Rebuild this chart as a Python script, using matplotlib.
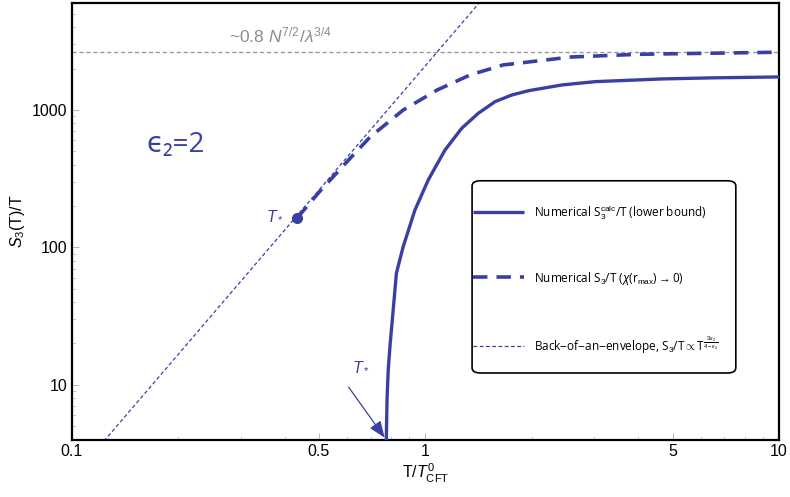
import numpy as np
import matplotlib
matplotlib.use("Agg")
from matplotlib import pyplot as plt
from matplotlib.patches import FancyBboxPatch
from matplotlib.ticker import FixedLocator, NullFormatter

plt.rcParams['font.family'] = ['Liberation Sans', 'DejaVu Sans']
plt.rcParams['mathtext.fontset'] = 'custom'
plt.rcParams['mathtext.rm'] = 'Liberation Sans'
plt.rcParams['mathtext.it'] = 'Liberation Sans:italic'

blue = '#3a40a3'

# lower bound curve, S3calc/T
T_calc = [0.775, 0.779, 0.785, 0.795, 0.806, 0.828, 0.865, 0.934, 1.019, 1.136, 1.267, 1.412,
          1.574, 1.756, 1.957, 2.434, 3.027, 4.64, 6.5, 10.0]
S_calc = [3.9, 8.0, 12.9, 20.0, 29.7, 65.0, 101.0, 187.0, 310.0, 511.0, 736.0, 947.0,
          1149.0, 1285.0, 1380.0, 1520.0, 1607.0, 1680.0, 1712.0, 1738.0]

# chi(r_max) -> 0 curve
T_num = [0.434, 0.5, 0.6, 0.698, 0.866, 1.08, 1.34, 1.66, 2.58, 4.0, 10.0]
S_num = [164.0, 252.0, 420.0, 637.0, 1000.0, 1397.0, 1800.0, 2125.0, 2427.0, 2540.0, 2630.0]

# back-of-an-envelope line, slope 3 on log-log
T_env = [0.12, 1.45]
S_env = [3.6, 6400.0]

S_sat = 2650.0          # ~0.8 N^{7/2}/lambda^{3/4}
T_star, S_star = 0.434, 164.0
T_star2 = 0.775

fig = plt.figure(figsize=(7.9, 4.97), dpi=100)
ax = fig.add_axes([0.091, 0.115, 0.895, 0.879])
ax.set_xscale('log')
ax.set_yscale('log')
ax.set_xlim(0.1, 10)
ax.set_ylim(3.98, 6000)

ax.axhline(S_sat, color='#999999', lw=1.0, ls=(0, (3, 2)), zorder=1)
l3, = ax.plot(T_env, S_env, color=blue, lw=0.9, ls=(0, (3, 2)), zorder=2)
l1, = ax.plot(T_calc, S_calc, color=blue, lw=2.4, solid_capstyle='butt',
              solid_joinstyle='round', zorder=3)
l2, = ax.plot(T_num, S_num, color=blue, lw=2.6, ls=(0, (4, 2.5)), zorder=3)
ax.plot([T_star], [S_star], 'o', color=blue, ms=7, zorder=4)

ax.text(0.39, 3500, r"~0.8 $N^{7/2}/\lambda^{3/4}$", color='#8c8c8c', fontsize=12.5,
        ha='center', va='center')
ax.text(0.197, 556, "ϵ₂=2", color=blue, fontsize=20, ha='center', va='center',
        family=['Open Sans', 'DejaVu Sans'])
ax.text(0.376, 172, r"$T_*$", color=blue, fontsize=11.5, ha='center', va='center')
ax.text(0.655, 13.7, r"$T_*$", color=blue, fontsize=11.5, ha='center', va='center')
ax.annotate('', xy=(T_star2, 3.98), xytext=(0.6, 10.0),
            arrowprops=dict(arrowstyle='-|>,head_length=1.0,head_width=0.4', color=blue, lw=0.9))

# ticks
ax.xaxis.set_major_locator(FixedLocator([0.1, 0.5, 1, 5, 10]))
ax.set_xticklabels(['0.1', '0.5', '1', '5', '10'])
ax.xaxis.set_minor_locator(FixedLocator([0.2, 0.3, 0.4, 0.6, 0.7, 0.8, 0.9, 2, 3, 4, 6, 7, 8, 9]))
ax.xaxis.set_minor_formatter(NullFormatter())
ax.yaxis.set_major_locator(FixedLocator([10, 100, 1000]))
ax.set_yticklabels(['10', '100', '1000'])
ax.yaxis.set_minor_locator(FixedLocator([5, 6, 7, 8, 9, 20, 30, 40, 50, 60, 70, 80, 90,
                                         200, 300, 400, 500, 600, 700, 800, 900, 2000, 3000, 4000, 5000]))
ax.yaxis.set_minor_formatter(NullFormatter())
ax.tick_params(which='major', direction='in', length=5, width=0.8, color='#bbbbbb',
               labelsize=11.5, pad=3, top=False, right=False)
ax.tick_params(which='minor', direction='in', length=3, width=0.7, color='#cccccc',
               top=False, right=False)
for s in ax.spines.values():
    s.set_linewidth(1.6)

ax.set_xlabel(r"T/$T^0_{\rm CFT}$", fontsize=11.5, labelpad=2)
ax.set_ylabel(r"$S_3$(T)/T", fontsize=11.5, labelpad=4)

# legend box
box = FancyBboxPatch((0.566, 0.153), 0.373, 0.44, boxstyle='round,pad=0,rounding_size=0.012',
                     transform=ax.transAxes, fc='white', ec='black', lw=1.2, zorder=5)
ax.add_patch(box)
leg = ax.legend([l1, l2, l3],
                [r"Numerical S$_3^{\rm calc}$/T (lower bound)",
                 r"Numerical S$_3$/T ($\chi$(r$_{\rm max}$)$\rightarrow$0)",
                 r"Back$-$of$-$an$-$envelope, S$_3$/T$\propto$T$^{\frac{3\epsilon_2}{4-\epsilon_2}}$"],
                loc='upper left', bbox_to_anchor=(0.568, 0.542), frameon=False,
                prop={'family': ['Open Sans', 'DejaVu Sans'], 'size': 8.5},
                handlelength=4.3, handletextpad=0.85, labelspacing=4.05,
                borderpad=0, borderaxespad=0)
leg.set_zorder(6)

fig.savefig('out.png', dpi=100)
